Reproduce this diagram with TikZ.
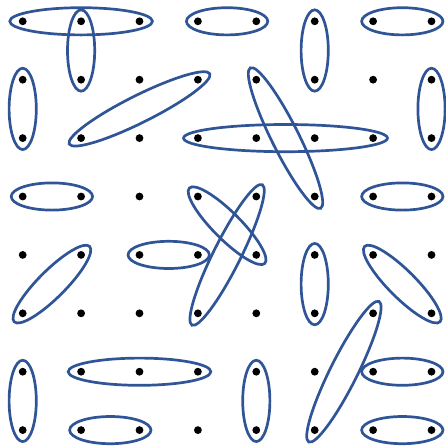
\documentclass[tikz,border=0pt]{standalone}
\usetikzlibrary{calc}
\definecolor{edgeblue}{RGB}{47,85,151}
\newcommand\hedge[2]{%
  \pgfpointdiff{\pgfpointanchor{#1}{center}}{\pgfpointanchor{#2}{center}}%
  \pgfgetlastxy\hdx\hdy
  \pgfmathsetmacro\hang{atan2(\hdy,\hdx)}%
  \pgfmathsetmacro\hrad{0.525*veclen(\hdx,\hdy)+10}%
  \draw[hyperedge, shift={($(#1)!0.5!(#2)$)}, rotate=\hang]
    (0,0) ellipse [x radius=\hrad pt, y radius=13.6pt];
}
\begin{document}
\begin{tikzpicture}[
  x=1pt, y=-1pt,
  dot/.style={circle, fill=black, inner sep=0pt, minimum size=7.8pt},
  hyperedge/.style={draw=edgeblue, line width=2.7pt}
]
\useasboundingbox (0,0) rectangle (446,445);
\foreach \i in {0,...,7}
  \foreach \j in {0,...,7}
    \node[dot] (d\i\j) at ({22.7+58.4*\i},{21.3+58.4*\j}) {};
\hedge{d00}{d20}
\hedge{d10}{d11}
\hedge{d30}{d40}
\hedge{d50}{d51}
\hedge{d60}{d70}
\hedge{d01}{d02}
\hedge{d12}{d31}
\hedge{d41}{d53}
\hedge{d71}{d72}
\hedge{d32}{d62}
\hedge{d03}{d13}
\hedge{d33}{d44}
\hedge{d43}{d35}
\hedge{d63}{d73}
\hedge{d14}{d05}
\hedge{d24}{d34}
\hedge{d54}{d55}
\hedge{d64}{d75}
\hedge{d65}{d57}
\hedge{d06}{d07}
\hedge{d16}{d36}
\hedge{d46}{d47}
\hedge{d66}{d76}
\hedge{d17}{d27}
\hedge{d67}{d77}
\end{tikzpicture}
\end{document}
